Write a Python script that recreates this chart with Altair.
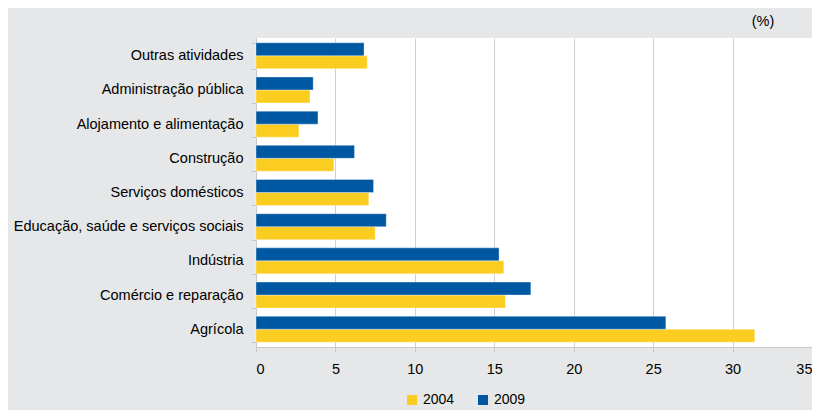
import altair as alt
import pandas as pd

categories = [
    "Outras atividades",
    "Administração pública",
    "Alojamento e alimentação",
    "Construção",
    "Serviços domésticos",
    "Educação, saúde e serviços sociais",
    "Indústria",
    "Comércio e reparação",
    "Agrícola",
]
v2004 = [7.0, 3.4, 2.7, 4.9, 7.1, 7.5, 15.6, 15.7, 31.4]
v2009 = [6.8, 3.6, 3.9, 6.2, 7.4, 8.2, 15.3, 17.3, 25.8]
years = ["2004", "2009"]
x_ticks = [0, 5, 10, 15, 20, 25, 30, 35]

YELLOW = "#fccd21"
BLUE = "#0058a3"
FONT = "Liberation Sans"

rows = []
for c, a, b in zip(categories, v2004, v2009):
    rows.append({"cat": c, "year": "2004", "value": a})
    rows.append({"cat": c, "year": "2009", "value": b})
df = pd.DataFrame(rows)

bars = alt.Chart(df).mark_bar(stroke="white", strokeWidth=0.7, strokeOpacity=0.5).encode(
    x=alt.X(
        "value:Q",
        scale=alt.Scale(domain=[0, 35], nice=False),
        axis=alt.Axis(
            values=x_ticks, title=None, grid=True, gridColor="#d0d0d0",
            domainColor="#c8c8c8", tickColor="#c8c8c8", tickSize=5,
            labelPadding=10, labelFontSize=14.5, labelFont=FONT, labelColor="#000",
            format="d",
        ),
    ),
    y=alt.Y(
        "cat:N", sort=categories,
        scale=alt.Scale(paddingInner=0.24, paddingOuter=0.14),
        axis=alt.Axis(
            title=None, tickBand="extent", domainColor="#c8c8c8", tickColor="#c8c8c8",
            tickSize=5, labelPadding=8, labelFontSize=14.5, labelFont=FONT,
            labelColor="#000", labelLimit=400,
        ),
    ),
    yOffset=alt.YOffset("year:N", sort=["2009", "2004"], scale=alt.Scale(paddingInner=0.0)),
    color=alt.Color(
        "year:N",
        scale=alt.Scale(domain=years, range=[YELLOW, BLUE]),
        legend=alt.Legend(
            title=None, orient="none", direction="horizontal", legendX=149, legendY=355,
            symbolType="square", symbolSize=100, symbolStrokeWidth=0,
            labelFontSize=14, labelFont=FONT, labelColor="#000", columnPadding=21,
            padding=0, symbolOffset=0, labelOffset=4,
        ),
    ),
)

pct = alt.Chart(pd.DataFrame({"t": ["(%)"]})).mark_text(
    font=FONT, fontSize=14.5, color="#000", align="center", baseline="middle"
).encode(text="t:N", x=alt.value(507), y=alt.value(-16))

chart = alt.layer(bars, pct).properties(
    width=556,
    height=309,
    autosize=alt.AutoSizeParams(type="none"),
    padding={"left": 248, "top": 30, "right": 0, "bottom": 63},
    background="#e6e7e8",
).configure_view(fill="white", stroke=None)

chart.save("out.html", embed_options={"renderer": "svg", "actions": False})
